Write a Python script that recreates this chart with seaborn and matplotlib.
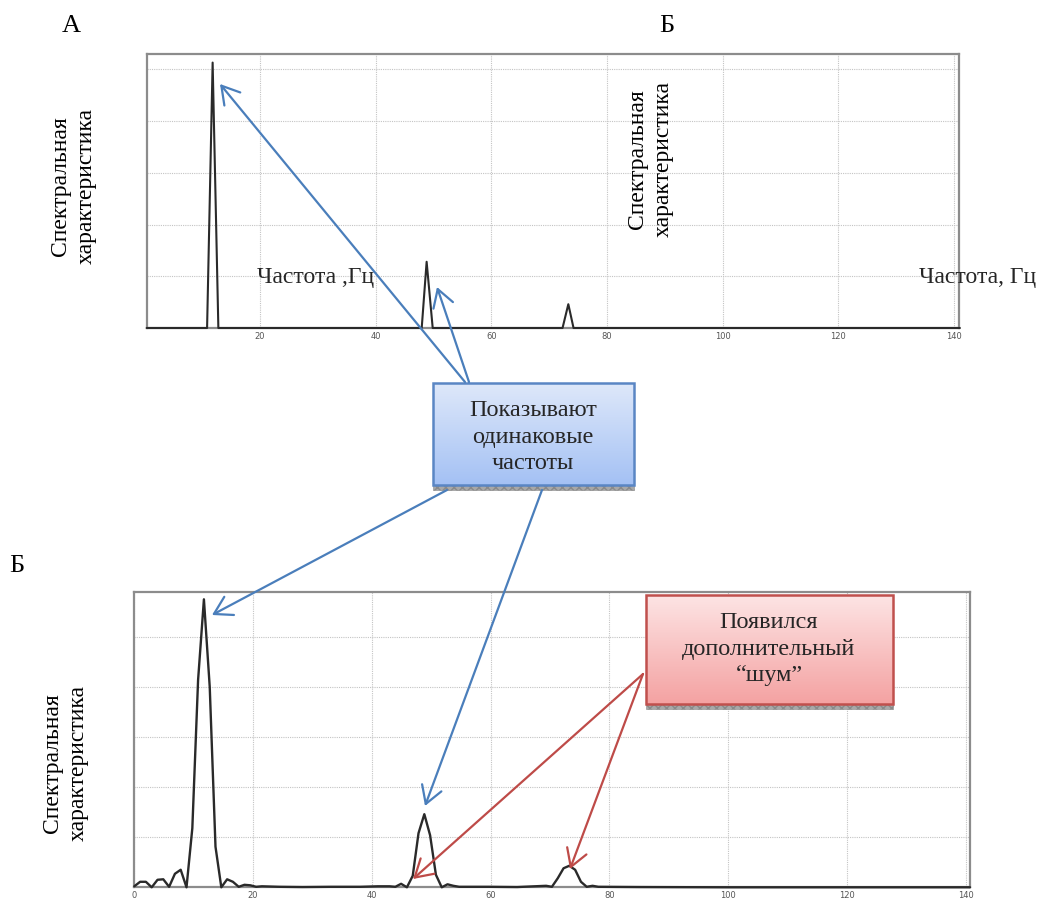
import numpy as np
import matplotlib
matplotlib.use("Agg")
import matplotlib.pyplot as plt
import seaborn as sns
from matplotlib.patches import Rectangle
from matplotlib.colors import LinearSegmentedColormap

# ---- spectrum A: clean signal (frequency in Hz, spectral amplitude) ----
freq_a = [0.4, 10.84, 11.8, 12.79, 47.95, 48.8, 49.85, 72.3, 73.3, 74.2, 141.0]
amp_a = [0.0, 0.0, 5.13, 0.0, 0.0, 1.28, 0.0, 0.0, 0.46, 0.0, 0.0]

# ---- spectrum Б: signal with noise ----
freq_b = [0.0, 0.98, 1.95, 2.93, 3.91, 4.88, 5.86, 6.84, 7.81, 8.79,
          9.77, 10.74, 11.72, 12.70, 13.67, 14.65, 15.63, 16.60, 17.58, 18.55,
          19.53, 20.51, 21.48, 24.41, 28.32, 33.20, 38.09, 41.02, 42.97, 43.95,
          44.92, 45.90, 46.88, 47.85, 48.83, 49.80, 50.78, 51.76, 52.73, 53.71,
          54.69, 59.57, 64.45, 69.34, 70.31, 71.29, 72.27, 73.24, 74.22, 75.20,
          76.17, 77.15, 78.13, 85.0, 100.0, 120.0, 140.7]
amp_b = [0.02, 0.11, 0.11, 0.0, 0.15, 0.16, 0.01, 0.27, 0.35, 0.0,
         1.18, 4.14, 5.75, 4.0, 0.81, 0.0, 0.16, 0.11, 0.01, 0.05,
         0.04, 0.01, 0.02, 0.01, 0.005, 0.01, 0.01, 0.02, 0.02, 0.01,
         0.07, 0.0, 0.23, 1.08, 1.46, 1.04, 0.25, 0.0, 0.06, 0.03,
         0.01, 0.01, 0.005, 0.03, 0.01, 0.18, 0.38, 0.43, 0.35, 0.11,
         0.01, 0.03, 0.01, 0.005, 0.0, 0.0, 0.0]

x_ticks_a = [20, 40, 60, 80, 100, 120, 140]
x_ticks_b = [0, 20, 40, 60, 80, 100, 120, 140]
y_grid = [1, 2, 3, 4, 5]

label_a = "А"
label_b = "Б"
y_title = "Спектральная\nхарактеристика"
x_title_a = "Частота ,Гц"
x_title_b = "Частота, Гц"
note_same = "Показывают\nодинаковые\nчастоты"
note_noise = "Появился\nдополнительный\n“шум”"

sns.set_style("white")
plt.rcParams["font.family"] = ["Liberation Serif", "DejaVu Serif"]

W, H = 1039, 902
fig = plt.figure(figsize=(W / 100, H / 100), dpi=100)


def px_axes(left, top, right, bottom):
    return fig.add_axes([left / W, 1 - bottom / H, (right - left) / W, (bottom - top) / H])


def style_spectrum(ax, xlim, ylim, ticks):
    ax.set_xlim(*xlim)
    ax.set_ylim(*ylim)
    ax.set_xticks(ticks)
    ax.set_yticks(y_grid)
    ax.set_yticklabels([])
    ax.set_xticklabels([str(t) for t in ticks], family="DejaVu Sans",
                       fontsize=6, color="#555555")
    ax.tick_params(axis="x", length=0, pad=3)
    ax.tick_params(axis="y", length=3, direction="out", color="#9a9a9a", width=1)
    ax.grid(True, linestyle=(0, (1, 1)), color="#c4c4c4", linewidth=0.8)
    for s in ax.spines.values():
        s.set_visible(True)
        s.set_color("#8c8c8c")
        s.set_linewidth(1.6)
    for ln in ax.get_lines():
        if ln.get_label() != "_nolegend_" or True:
            pass
    ax.set_xlabel("")
    ax.set_ylabel("")


def draw_spectrum(ax, x, y, lw):
    sns.lineplot(x=x, y=y, ax=ax, color="#2a2a2a", linewidth=lw,
                 estimator=None, sort=False)
    for ln in ax.lines:
        ln.set_zorder(3)
        ln.set_clip_on(False)


# top spectrum
ax_a = px_axes(146.7, 54.3, 959.3, 328)
draw_spectrum(ax_a, freq_a, amp_a, 1.5)
style_spectrum(ax_a, (0.4, 140.9), (0, 5.29), x_ticks_a)

# bottom spectrum
ax_b = px_axes(134.3, 592.3, 970, 887.3)
draw_spectrum(ax_b, freq_b, amp_b, 1.7)
style_spectrum(ax_b, (0, 140.7), (0, 5.89), x_ticks_b)

# overlay in pixel coordinates for captions, callouts and arrows
ov = fig.add_axes([0, 0, 1, 1], zorder=10)
ov.set_xlim(0, W)
ov.set_ylim(H, 0)
ov.axis("off")
ov.patch.set_alpha(0)

txt = dict(ha="center", va="center", color="black")
ov.text(71.7, 26, label_a, fontsize=19, **txt)
ov.text(666.7, 26, label_b, fontsize=19, **txt)
ov.text(17, 566, label_b, fontsize=19, **txt)

for cx, cy in [(73, 186), (650, 159), (65, 763)]:
    ov.text(cx, cy, y_title, fontsize=17, rotation=90, multialignment="center",
            linespacing=1.3, **txt)

ov.text(257, 277, x_title_a, fontsize=17, ha="left", va="center")
ov.text(1036, 277, x_title_b, fontsize=17, ha="right", va="center")


def callout(x0, y0, x1, y1, c_top, c_bot, edge, text, cx, cy):
    cmap = LinearSegmentedColormap.from_list("fill", [c_top, c_bot])
    grad = np.linspace(0, 1, 128)[:, None]
    ov.imshow(grad, extent=(x0, x1, y1, y0), cmap=cmap, aspect="auto",
              origin="upper", zorder=2)
    ov.add_patch(Rectangle((x0, y1), x1 - x0, 5, facecolor="#a8a8a8",
                           edgecolor="#8a8a8a", linewidth=0.4, hatch="xxxx", zorder=1))
    ov.add_patch(Rectangle((x0, y0), x1 - x0, y1 - y0, fill=False,
                           edgecolor=edge, linewidth=1.8, zorder=3))
    ov.text(cx, cy, text, fontsize=17.5, ha="center", va="center",
            multialignment="center", linespacing=1.32, zorder=4)


callout(433, 383, 634, 485, "#dee8fa", "#a4c1f4", "#5a86c4", note_same, 533, 437)
callout(646, 595, 892.7, 704, "#fde4e4", "#f4a2a2", "#c0504d", note_noise, 769, 649)

ov.set_xlim(0, W)
ov.set_ylim(H, 0)


def arrow(tail, tip, color):
    ov.annotate("", xy=tip, xytext=tail,
                arrowprops=dict(arrowstyle="->,head_length=0.62,head_width=0.37",
                                color=color, lw=1.6, shrinkA=0, shrinkB=0,
                                mutation_scale=20), zorder=5)


blue = "#4a7ebb"
red = "#be4b48"
arrow((465, 382), (220, 84), blue)
arrow((469, 382), (437, 287), blue)
arrow((447, 490), (212, 615), blue)
arrow((542, 490), (425, 806), blue)
arrow((643, 674), (413, 879), red)
arrow((643, 674), (570, 869), red)

fig.savefig("out.png", dpi=100)
